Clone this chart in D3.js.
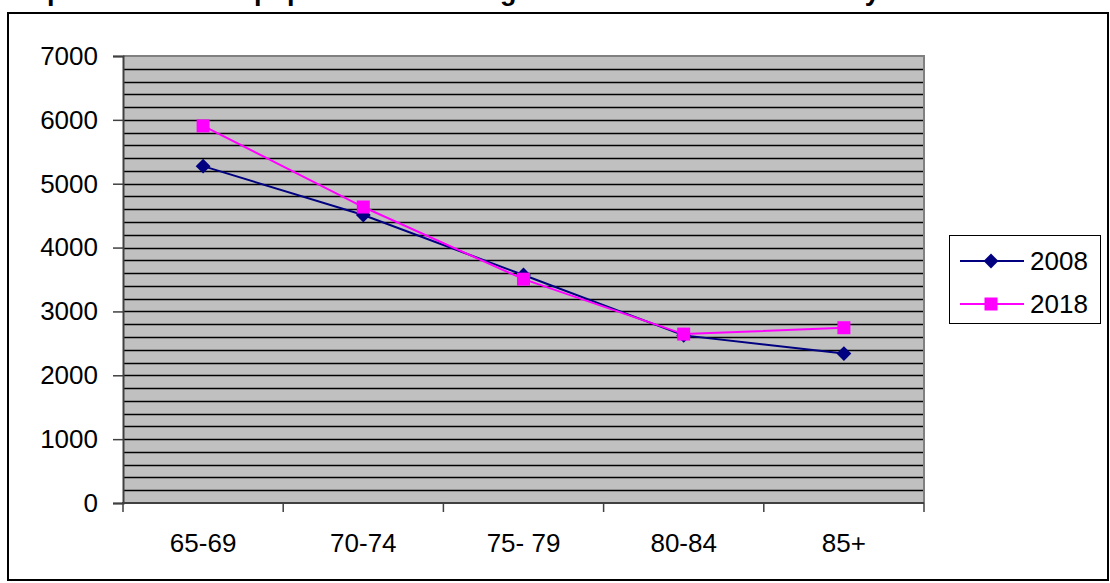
<!DOCTYPE html>
<html lang="en">
<head>
<meta charset="utf-8">
<title>Population by age band 2008 and 2018</title>
<script src="https://d3js.org/d3.v7.min.js"></script>
<style>
  html, body { margin: 0; padding: 0; background: #fff; }
  svg text { font-family: "Liberation Sans", Arial, sans-serif; fill: #000; }
</style>
</head>
<body>
<div id="chart"></div>
<script>
// categories, series and tick labels
var ageBands = ["65-69", "70-74", "75- 79", "80-84", "85+"];
var values2008 = [5275, 4510, 3570, 2625, 2340];
var values2018 = [5905, 4635, 3505, 2645, 2745];
var yTicks = [0, 1000, 2000, 3000, 4000, 5000, 6000, 7000];
var seriesNames = ["2008", "2018"];
var seriesColors = ["#000080", "#ff00ff"];

var w = 1110, h = 583;
var svg = d3.select("#chart").append("svg")
    .attr("width", w)
    .attr("height", h);

// title (mostly cut off at the top edge)
svg.append("text")
    .attr("x", -13)
    .attr("y", -0.5)
    .attr("font-size", 27)
    .attr("font-weight", "bold")
    .text("Comparison of local population within age bands in 2008 and 2018 by area");

// outer chart frame
svg.append("rect")
    .attr("x", 8).attr("y", 13)
    .attr("width", 1100).attr("height", 567)
    .attr("fill", "#fff")
    .attr("stroke", "#000")
    .attr("stroke-width", 2);

var plot = { left: 123, right: 924, top: 56, bottom: 503 };

var x = d3.scaleBand()
    .domain(ageBands)
    .range([plot.left, plot.right]);
var y = d3.scaleLinear()
    .domain([0, 7000])
    .range([plot.bottom, plot.top]);

// plot background
svg.append("rect")
    .attr("x", plot.left).attr("y", plot.top)
    .attr("width", plot.right - plot.left)
    .attr("height", plot.bottom - plot.top)
    .attr("fill", "#c0c0c0");

// gridlines every 200
svg.append("g").selectAll("line")
    .data(d3.range(200, 7000, 200))
    .enter().append("line")
    .attr("x1", plot.left).attr("x2", plot.right)
    .attr("y1", function(d) { return Math.round(y(d)) + 0.5; })
    .attr("y2", function(d) { return Math.round(y(d)) + 0.5; })
    .attr("stroke", "#000")
    .attr("stroke-width", 1.3);

// plot border top/right
svg.append("path")
    .attr("d", "M" + plot.left + "," + plot.top + "H" + plot.right + "V" + plot.bottom)
    .attr("fill", "none")
    .attr("stroke", "#808080")
    .attr("stroke-width", 2);

// y axis
var yAxis = d3.axisLeft(y)
    .tickValues(yTicks)
    .tickSize(10)
    .tickPadding(15)
    .tickFormat(d3.format("d"));
var gy = svg.append("g")
    .attr("transform", "translate(" + plot.left + ",0)")
    .call(yAxis);
gy.select(".domain").attr("stroke", "#404040").attr("stroke-width", 2);
gy.selectAll(".tick line").attr("stroke", "#404040").attr("stroke-width", 1.5);
gy.selectAll(".tick text")
    .attr("font-size", 26)
    .attr("font-family", "Liberation Sans, Arial, sans-serif")
    .attr("fill", "#000");

// x axis: ticks at band boundaries
var gx = svg.append("g");
gx.append("line")
    .attr("x1", plot.left - 1).attr("x2", plot.right)
    .attr("y1", plot.bottom).attr("y2", plot.bottom)
    .attr("stroke", "#404040").attr("stroke-width", 2);
gx.selectAll("line.tick")
    .data(ageBands.concat([null]))
    .enter().append("line")
    .attr("class", "tick")
    .attr("x1", function(d, i) { return d === null ? plot.right : x(d); })
    .attr("x2", function(d, i) { return d === null ? plot.right : x(d); })
    .attr("y1", plot.bottom).attr("y2", plot.bottom + 9)
    .attr("stroke", "#404040").attr("stroke-width", 1.5);
gx.selectAll("text")
    .data(ageBands)
    .enter().append("text")
    .attr("x", function(d) { return x(d) + x.bandwidth() / 2; })
    .attr("y", 552)
    .attr("text-anchor", "middle")
    .attr("font-size", 26)
    .text(function(d) { return d; });

// series
var series = [values2008, values2018];
var cx = function(d, i) { return x(ageBands[i]) + x.bandwidth() / 2; };
var line = d3.line()
    .x(cx)
    .y(function(d) { return y(d); });

var diamond = d3.symbol().type(d3.symbolSquare).size(110);
var square = d3.symbol().type(d3.symbolSquare).size(169);

series.forEach(function(vals, s) {
    svg.append("path")
        .datum(vals)
        .attr("d", line)
        .attr("fill", "none")
        .attr("stroke", seriesColors[s])
        .attr("stroke-width", 2);
    svg.append("g").selectAll("path")
        .data(vals)
        .enter().append("path")
        .attr("d", s === 0 ? diamond : square)
        .attr("transform", function(d, i) {
            return "translate(" + cx(d, i) + "," + y(d) + ")" + (s === 0 ? " rotate(45)" : "");
        })
        .attr("fill", seriesColors[s]);
});

// legend
var legend = svg.append("g");
legend.append("rect")
    .attr("x", 949.5).attr("y", 235.5)
    .attr("width", 151).attr("height", 88)
    .attr("fill", "#fff")
    .attr("stroke", "#000")
    .attr("stroke-width", 1);
var rows = legend.selectAll("g.row")
    .data(seriesNames)
    .enter().append("g")
    .attr("class", "row")
    .attr("transform", function(d, i) { return "translate(0," + (261 + i * 43) + ")"; });
rows.append("line")
    .attr("x1", 960).attr("x2", 1024)
    .attr("stroke", function(d, i) { return seriesColors[i]; })
    .attr("stroke-width", 2);
rows.append("path")
    .attr("d", function(d, i) { return i === 0 ? diamond() : square(); })
    .attr("transform", function(d, i) { return "translate(991,0)" + (i === 0 ? " rotate(45)" : ""); })
    .attr("fill", function(d, i) { return seriesColors[i]; });
rows.append("text")
    .attr("x", 1030)
    .attr("y", 9)
    .attr("font-size", 26)
    .text(function(d) { return d; });
</script>
</body>
</html>
